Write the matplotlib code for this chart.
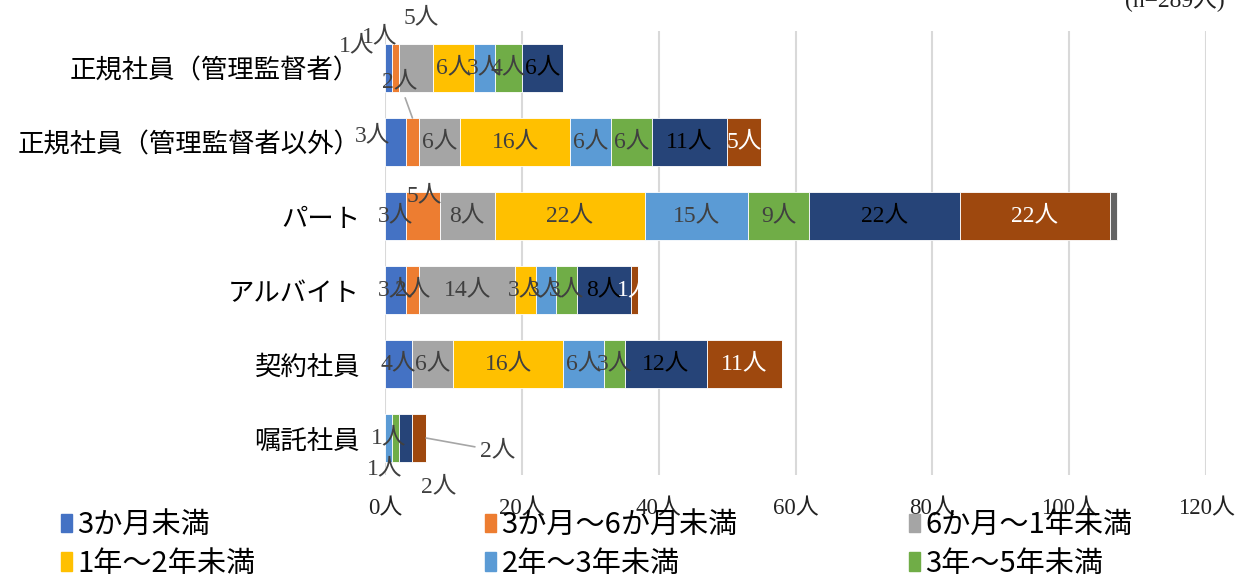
import numpy as np
import matplotlib.pyplot as plt
from matplotlib.patches import Patch

plt.rcParams['font.family'] = ['Noto Sans CJK JP', 'DejaVu Sans']
serif = ['Liberation Serif', 'Noto Sans CJK JP']

# categories (top to bottom)
categories = ['正規社員（管理監督者）', '正規社員（管理監督者以外）', 'パート',
              'アルバイト', '契約社員', '嘱託社員']

series_names = ['3か月未満', '3か月～6か月未満', '6か月～1年未満', '1年～2年未満',
                '2年～3年未満', '3年～5年未満', '5年～10年未満', '10年以上', '無回答']

values = np.array([
    [1, 1, 5, 6, 3, 4, 6, 0, 0],
    [3, 2, 6, 16, 6, 6, 11, 5, 0],
    [3, 5, 8, 22, 15, 9, 22, 22, 1],
    [3, 2, 14, 3, 3, 3, 8, 1, 0],
    [4, 0, 6, 16, 6, 3, 12, 11, 0],
    [0, 0, 0, 0, 1, 1, 2, 2, 0],
])

colors = ['#4472C4', '#ED7D31', '#A5A5A5', '#FFC000', '#5B9BD5',
          '#70AD47', '#264478', '#9E480E', '#636363']
label_colors = ['#404040'] * 6 + ['#000000', '#FFFFFF', '#404040']

xticks = [0, 20, 40, 60, 80, 100, 120]

# moved data labels: (row, series) -> offset in pixels
offsets = {
    (0, 0): (-32, 22), (0, 1): (-16, 31), (0, 2): (5, 50),
    (1, 0): (-23, 6), (1, 1): (-13, 36),
    (2, 1): (2, 20),
    (5, 5): (-11, -31), (5, 6): (33, -49), (5, 7): (72, -13),
}
leaders = {(1, 1): 'top', (5, 7): 'end'}
outside = {(0, 0), (0, 1), (0, 2), (1, 0), (1, 1), (5, 5), (5, 6), (5, 7), (2, 1)}

fig = plt.figure(figsize=(12.51, 5.81), dpi=100)
ax = fig.add_axes([0.3078, 0.1824, 0.6563, 0.7642])

y = np.arange(len(categories))
bar_h = 0.65
left = np.zeros(len(categories))
for j, name in enumerate(series_names):
    ax.barh(y, values[:, j], left=left, height=bar_h, color=colors[j],
            edgecolor='white', linewidth=0.6, label=name, zorder=3)
    for i in range(len(categories)):
        v = values[i, j]
        if v == 0 or j == 8:
            continue
        cx = left[i] + v / 2
        dx, dy = offsets.get((i, j), (0, 0))
        col = '#404040' if (i, j) in outside else label_colors[j]
        kw = {}
        if (i, j) in leaders:
            if leaders[(i, j)] == 'top':
                xy = (cx, i - bar_h / 2)
            else:
                xy = (left[i] + v, i)
            kw['arrowprops'] = dict(arrowstyle='-', color='#A6A6A6', lw=1.2,
                                    shrinkA=2, shrinkB=0)
        else:
            xy = (cx, i)
        ax.annotate(f'{v}人', xy=xy, xytext=(dx, dy), textcoords='offset pixels',
                    ha='center', va='center', fontsize=17, color=col,
                    family=serif, zorder=5, **kw)
    left += values[:, j]

ax.set_xlim(0, 120)
ax.set_ylim(len(categories) - 0.5, -0.5)
ax.set_xticks(xticks)
ax.set_xticklabels([f'{t}人' for t in xticks], family=serif, fontsize=16.5, color='#222222')
ax.set_yticks(y)
ax.set_yticklabels(categories, fontsize=19)
ax.tick_params(axis='both', length=0)
ax.tick_params(axis='x', pad=17)
ax.tick_params(axis='y', pad=18)
ax.grid(axis='x', color='#D9D9D9', linewidth=1.5, zorder=0)
for s in ax.spines.values():
    s.set_visible(False)

fig.text(0.979, 1.0, '(n=289人)', ha='right', va='center', fontsize=17,
         family=serif, color='#222222')

# legend: three columns of two entries
handles = [Patch(color=c) for c in colors]
col_x = [0.049, 0.388, 0.727]
for k in range(3):
    idx = [k, k + 3]
    fig.legend([handles[i] for i in idx], [series_names[i] for i in idx],
               loc='upper left', bbox_to_anchor=(col_x[k], 0.122),
               frameon=False, fontsize=21, handlelength=0.35, handleheight=0.6,
               handletextpad=0.2, labelspacing=0.3, borderpad=0, borderaxespad=0)

fig.savefig('out.png', dpi=100)
